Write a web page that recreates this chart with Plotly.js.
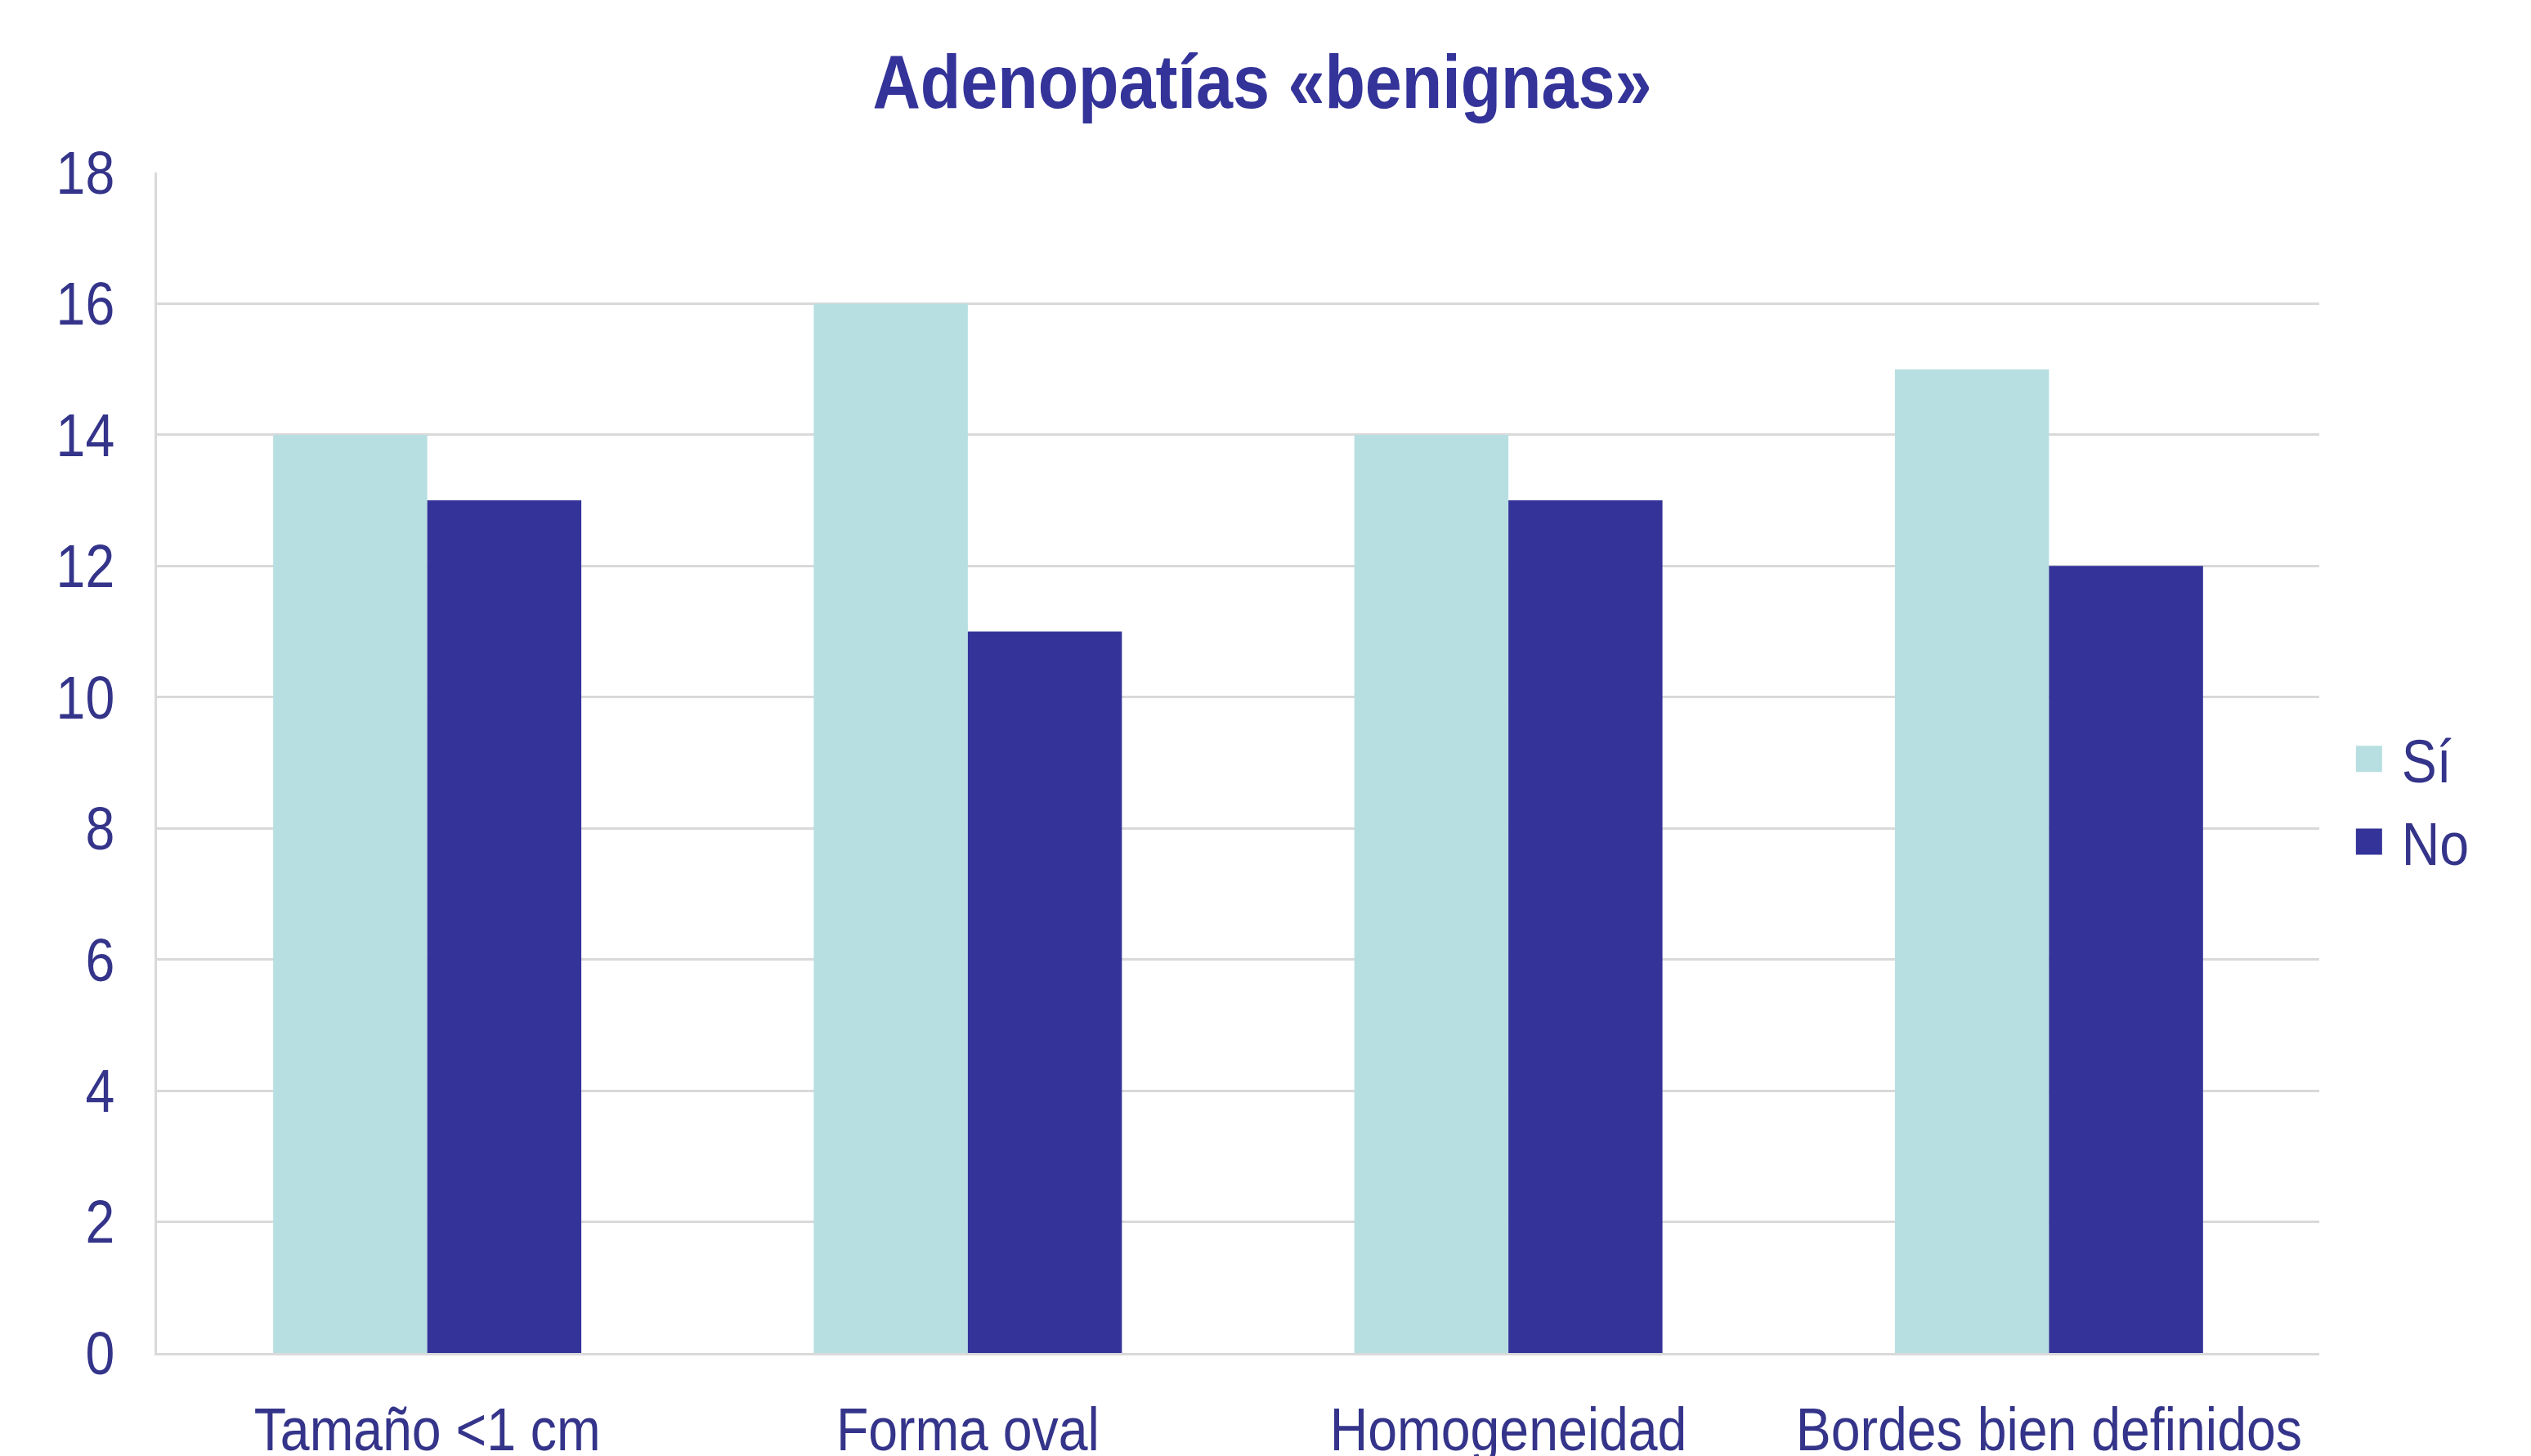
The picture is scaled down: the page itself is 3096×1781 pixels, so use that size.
<!DOCTYPE html>
<html>
<head>
<meta charset="utf-8">
<script src="https://cdn.plot.ly/plotly-3.0.1.min.js"></script>
<style>html,body{margin:0;padding:0;background:#fff;}</style>
</head>
<body>
<div id="chart" style="width:3096px;height:1781px;"></div>
<script>
const categories = ["Tamaño <1 cm", "Forma oval", "Homogeneidad", "Bordes bien definidos"];
const seriesNames = ["Sí", "No"];
const valuesSi = [14, 16, 14, 15];
const valuesNo = [13, 11, 13, 12];
const yTicks = [0, 2, 4, 6, 8, 10, 12, 14, 16, 18];

const FONT = '"Liberation Sans Narrow", "Arial Narrow", "Liberation Sans", Arial, sans-serif';
const TEXT = '#34348a';
const CONDENSE = 0.87;

const traces = [
  {type: 'bar', name: seriesNames[0], legendgroup: 'g1', x: categories, y: valuesSi, marker: {color: '#b7dfe2', line: {width: 0}}, hoverinfo: 'y'},
  {type: 'bar', name: seriesNames[1], legendgroup: 'g2', x: categories, y: valuesNo, marker: {color: '#333399', line: {width: 0}}, hoverinfo: 'y'}
];

const layout = {
  width: 3096, height: 1781,
  paper_bgcolor: '#ffffff', plot_bgcolor: '#ffffff',
  margin: {l: 192, r: 259, t: 211, b: 126, pad: 0},
  font: {family: FONT, color: TEXT, size: 74},
  title: {
    text: 'Adenopatías «benignas»',
    font: {family: FONT, size: 93, color: '#333399', weight: 'bold'},
    x: 1544/3096, xref: 'container', xanchor: 'center',
    y: 1 - 99/1781, yref: 'container', yanchor: 'middle'
  },
  barmode: 'group',
  bargap: 0.43,
  bargroupgap: 0,
  xaxis: {
    type: 'category',
    showline: true, linecolor: '#d9d9d9', linewidth: 3,
    showgrid: false, zeroline: false,
    ticks: '', ticklabelstandoff: 27,
    tickfont: {family: FONT, size: 74, color: TEXT}
  },
  yaxis: {
    range: [0, 18], tickvals: yTicks, ticktext: yTicks.map(String),
    showline: true, linecolor: '#d9d9d9', linewidth: 3,
    showgrid: true, gridcolor: '#d9d9d9', gridwidth: 3,
    zeroline: false, ticks: '', ticklabelstandoff: 34,
    tickfont: {family: FONT, size: 74, color: TEXT}
  },
  legend: {
    x: 1.023, xanchor: 'left', y: 0.468, yanchor: 'middle',
    font: {family: FONT, size: 74, color: TEXT},
    bgcolor: 'rgba(0,0,0,0)', tracegroupgap: 2, itemwidth: 30
  },
  showlegend: true
};

function condenseText(gd){
  const sel = ['.xtick text', '.ytick text', '.gtitle', '.legendtext'];
  sel.forEach(function(s){
    gd.querySelectorAll(s).forEach(function(t){
      if (t.dataset.condensed) return;
      let bb;
      try { bb = t.getBBox(); } catch(e) { return; }
      const anchor = t.getAttribute('text-anchor') || 'start';
      let ax = bb.x;
      if (anchor === 'middle') ax = bb.x + bb.width / 2;
      else if (anchor === 'end') ax = bb.x + bb.width;
      const prev = t.getAttribute('transform') || '';
      t.setAttribute('transform', prev + ' translate(' + ax + ',0) scale(' + CONDENSE + ',1) translate(' + (-ax) + ',0)');
      t.dataset.condensed = '1';
    });
  });
  gd.querySelectorAll('.legend [clip-path]').forEach(function(el){
    el.removeAttribute('clip-path');
  });
  gd.querySelectorAll('.legend .legendpoints path').forEach(function(p){
    p.setAttribute('d', 'M16,16H-16V-16H16Z');
    p.removeAttribute('transform');
  });
}

Plotly.newPlot('chart', traces, layout, {displayModeBar: false, staticPlot: true}).then(function(gd){
  condenseText(gd);
});
</script>
</body>
</html>
